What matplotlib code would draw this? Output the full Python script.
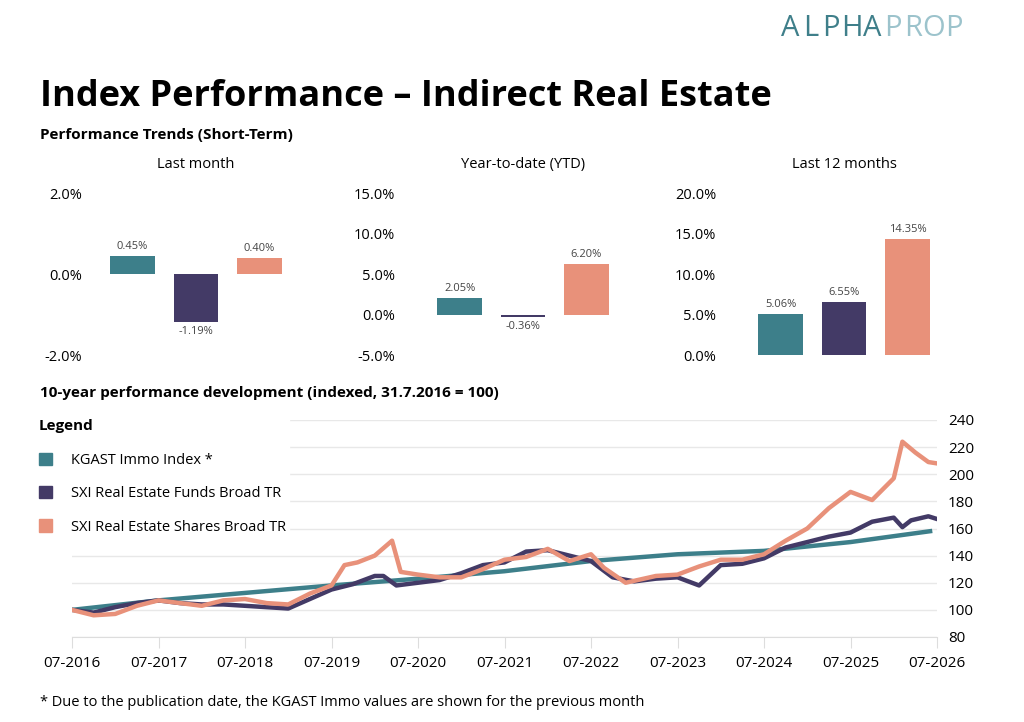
import numpy as np
import matplotlib.pyplot as plt
from matplotlib.patches import Patch

plt.rcParams['font.family'] = ['Open Sans', 'DejaVu Sans']

# Short-term bars
bar_colors = ['#3d7f8a', '#433a66', '#e8917a']
panels = ['Last month', 'Year-to-date (YTD)', 'Last 12 months']
last_month = [0.45, -1.19, 0.40]
ytd = [2.05, -0.36, 6.20]
last_12m = [5.06, 6.55, 14.35]
panel_ticks = [[-2, 0, 2], [-5, 0, 5, 10, 15], [0, 5, 10, 15, 20]]

# 10-year development (fractional years)
kgast_x = [2016.5, 2017.5, 2018.5, 2019.5, 2020.5, 2021.5, 2022.5, 2023.5, 2024.5, 2025.5, 2026.42]
kgast_y = [100, 107, 112.5, 118, 123, 128.5, 136, 141, 143.5, 150, 158]

funds_x = [2016.5, 2016.75, 2017.0, 2017.25, 2017.5, 2017.75, 2018.0, 2018.25, 2018.5, 2018.75, 2019.0,
           2019.25, 2019.5, 2019.75, 2020.0, 2020.1, 2020.25, 2020.5, 2020.75, 2021.0, 2021.25, 2021.5,
           2021.75, 2022.0, 2022.25, 2022.5, 2022.75, 2023.0, 2023.25, 2023.5, 2023.75, 2024.0, 2024.25,
           2024.5, 2024.75, 2025.0, 2025.25, 2025.5, 2025.75, 2026.0, 2026.1, 2026.2, 2026.4, 2026.5]
funds_y = [100, 98, 102, 105, 107, 105, 104, 104, 103, 102, 101,
           108, 115, 119, 125, 125, 118, 120, 122, 127, 133, 135,
           143, 144, 140, 136, 124, 121, 123, 124, 118, 133, 134,
           138, 146, 150, 154, 157, 165, 168, 161, 166, 169, 167]

shares_x = [2016.5, 2016.75, 2017.0, 2017.25, 2017.5, 2017.75, 2018.0, 2018.25, 2018.5, 2018.75, 2019.0,
            2019.25, 2019.5, 2019.65, 2019.8, 2020.0, 2020.2, 2020.3, 2020.5, 2020.75, 2021.0, 2021.25,
            2021.5, 2021.75, 2022.0, 2022.25, 2022.5, 2022.65, 2022.9, 2023.25, 2023.5, 2023.75, 2024.0,
            2024.25, 2024.5, 2024.75, 2025.0, 2025.25, 2025.5, 2025.75, 2026.0, 2026.1, 2026.25, 2026.4, 2026.5]
shares_y = [100, 96, 97, 103, 107, 105, 103, 107, 108, 105, 104,
            112, 118, 133, 135, 140, 151, 128, 126, 124, 124, 130,
            137, 139, 145, 136, 141, 131, 120, 125, 126, 132, 137,
            137, 141, 151, 160, 175, 187, 181, 197, 224, 216, 209, 208]

W, H = 1024, 722
fig = plt.figure(figsize=(W / 100, H / 100), dpi=100)

def box(x0, y0, x1, y1):
    return [x0 / W, 1 - y1 / H, (x1 - x0) / W, (y1 - y0) / H]

fig.text(40 / W, 1 - 97 / H, 'Index Performance – Indirect Real Estate', fontsize=26,
         fontweight='bold', va='center')
fig.text(40 / W, 1 - 135 / H, 'Performance Trends (Short-Term)', fontsize=11, fontweight='bold', va='center')
fig.text(40 / W, 1 - 393 / H, '10-year performance development (indexed, 31.7.2016 = 100)', fontsize=11,
         fontweight='bold', va='center')
fig.text(40 / W, 1 - 703 / H, '* Due to the publication date, the KGAST Immo values are shown for the previous month',
         fontsize=10.5, va='center')
logo = 'ALPHAPROP'
for k, ch in enumerate(logo):
    fig.text((790 + k * 20.5) / W, 1 - 28 / H, ch, fontsize=21, ha='center', va='center',
             color='#3f7f8a' if k < 5 else '#9cc3cc')

lefts = [85, 412, 733]
pads = [2, 12, 12]
for i, vals in enumerate([last_month, ytd, last_12m]):
    ticks = panel_ticks[i]
    ax = fig.add_axes(box(lefts[i], 193, lefts[i] + 222, 355))
    ax.bar(range(3), vals, width=0.7, color=bar_colors)
    ax.set_xlim(-0.75, 2.75)
    ax.set_ylim(ticks[0], ticks[-1])
    ax.set_yticks(ticks)
    ax.set_yticklabels([f'{t:.1f}%' for t in ticks], fontsize=10.5)
    ax.set_xticks([])
    ax.tick_params(axis='y', length=0, pad=pads[i])
    for s in ax.spines.values():
        s.set_visible(False)
    ax.set_title(panels[i], fontsize=10.5, pad=18)
    span = ticks[-1] - ticks[0]
    for j, v in enumerate(vals):
        off = span * 0.025
        ax.text(j, v + off if v >= 0 else v - off, f'{v:.2f}%', ha='center',
                va='bottom' if v >= 0 else 'top', fontsize=8, color='#444444')

ax = fig.add_axes(box(72, 420, 937, 637))
ax.plot(kgast_x, kgast_y, color=bar_colors[0], lw=3.2, zorder=3)
ax.plot(funds_x, funds_y, color=bar_colors[1], lw=3.2, zorder=4)
ax.plot(shares_x, shares_y, color=bar_colors[2], lw=3.2, zorder=5)
ax.set_xlim(2016.5, 2026.5)
ax.set_ylim(80, 240)
ax.set_yticks(range(80, 241, 20))
ax.yaxis.tick_right()
ax.tick_params(axis='y', length=0, labelsize=11, pad=8)
years = list(range(2016, 2027))
ax.set_xticks([y + 0.5 for y in years])
ax.set_xticklabels([f'07-{y}' for y in years], fontsize=11)
ax.tick_params(axis='x', length=8, color='#dddddd', pad=6)
ax.grid(axis='y', color='#e8e8e8', lw=1)
for k in ['top', 'left', 'right']:
    ax.spines[k].set_visible(False)
ax.spines['bottom'].set_color('#dddddd')
labels = ['KGAST Immo Index *', 'SXI Real Estate Funds Broad TR', 'SXI Real Estate Shares Broad TR']
handles = [Patch(color=c) for c in bar_colors]
leg = ax.legend(handles, labels, loc='upper left', bbox_to_anchor=(-0.05, 1.05), frameon=True,
                facecolor='white', edgecolor='white', framealpha=1, fontsize=10.5,
                title='Legend', alignment='left', handlelength=0.9, handleheight=0.9,
                labelspacing=1.25, handletextpad=1.3, borderpad=0.2)
leg.get_title().set_fontweight('bold')
leg.get_title().set_fontsize(11)
leg._legend_box.sep = 14
leg.set_zorder(10)

fig.savefig('out.png', dpi=100)
